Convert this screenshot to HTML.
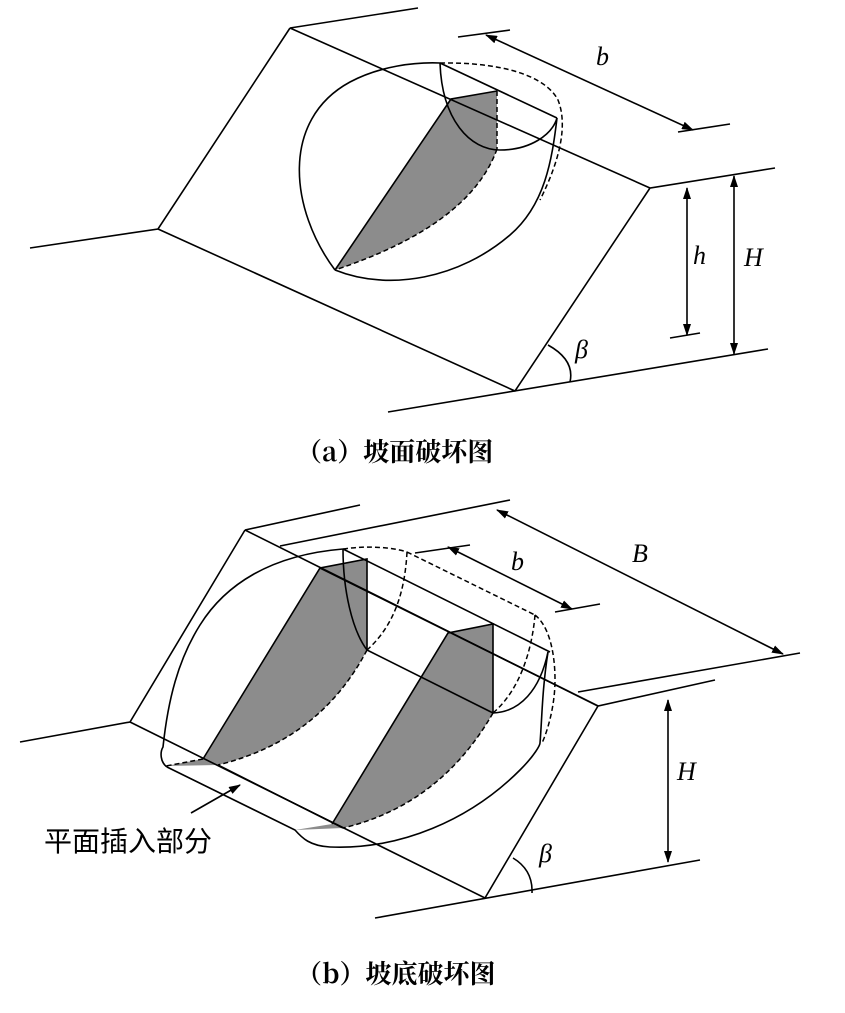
<!DOCTYPE html>
<html><head><meta charset="utf-8"><style>
html,body{margin:0;padding:0;background:#fff}
svg{display:block}
.l{stroke:#000;stroke-width:1.6;fill:none}
.d{stroke:#000;stroke-width:1.5;fill:none;stroke-dasharray:5,3}
.g{fill:#8c8c8c;stroke:none}
.it{font-family:"Liberation Serif",serif;font-style:italic;font-size:26px}
.cap{font-family:"Noto Serif CJK SC","Liberation Serif",serif;font-size:26px;font-weight:bold}
.cn{font-family:"Noto Sans CJK SC","Liberation Sans",sans-serif;font-size:28px}
</style></head><body>
<svg width="845" height="1013" viewBox="0 0 845 1013" xmlns="http://www.w3.org/2000/svg">
<defs><marker id="a" markerWidth="12" markerHeight="8" refX="11" refY="4" orient="auto-start-reverse" markerUnits="userSpaceOnUse"><path d="M0,0 L12,4 L0,8 z" fill="#000"/></marker></defs>

<!-- ===== (a) ===== -->
<path class="g" d="M335,270 L451,99 L497,91 L497,149 Q470,225 335,270 Z"/>
<path class="l" d="M290,28 L418,8 M290,28 L158,229 L30,248 M290,28 L650,188 L775,168 M158,229 L515,391 L650,188 M388,412 L768,349"/>
<path class="l" d="M458,37 L510,30 M678,132 L730,124"/>
<line class="l" x1="486" y1="35" x2="693" y2="130" marker-start="url(#a)" marker-end="url(#a)"/>
<text class="it" x="596" y="65">b</text>
<path class="l" d="M670,338 L700,333"/>
<line class="l" x1="687" y1="188" x2="687" y2="335" marker-start="url(#a)" marker-end="url(#a)"/>
<text class="it" x="693" y="264">h</text>
<line class="l" x1="734" y1="176" x2="734" y2="354" marker-start="url(#a)" marker-end="url(#a)"/>
<text class="it" x="744" y="266">H</text>
<path class="l" d="M548,345 Q575,360 570,382"/>
<text class="it" x="575" y="358">β</text>
<path class="l" d="M335,270 C290,210 280,120 350,82 C380,66 415,62 440,63"/>
<path class="l" d="M335,270 C390,292 460,278 510,235 C545,205 552,160 557,118"/>
<path class="l" d="M440,63 L557,118 M440,63 C442,120 470,150 500,150 C530,150 552,135 557,118"/>
<path class="l" d="M335,270 L451,99 L497,91"/>
<path class="d" d="M497,91 L497,149 M497,149 Q470,225 335,270"/>
<path class="d" d="M440,63 C500,62 545,75 558,100 C568,125 560,160 540,200"/>

<text class="cap" x="296" y="461">（a）坡面破坏图</text>

<!-- ===== (b) ===== -->
<path class="g" d="M203,759 L320,568 L367,559 L367,650 Q320,740 218,765 Z"/>
<path class="g" d="M332,824 L448,633 L493,624 L493,713 Q440,805 343,828 Z"/>
<path class="g" d="M166,766 L203,759 L218,765 Z M295,830 L332,824 L343,828 Z"/>
<path class="l" d="M245,530 L360,505 M280,546 L510,500 M245,530 L130,722 L20,742 M245,530 L598,706 L715,680 M578,692 L800,653 M598,706 L485,898 M375,918 L700,860 M130,722 L485,898"/>
<line class="l" x1="497" y1="510" x2="783" y2="654" marker-start="url(#a)" marker-end="url(#a)"/>
<text class="it" x="632" y="562">B</text>
<path class="l" d="M415,553 L470,545 M555,612 L600,604"/>
<line class="l" x1="448" y1="547" x2="572" y2="609" marker-start="url(#a)" marker-end="url(#a)"/>
<text class="it" x="511" y="570">b</text>
<line class="l" x1="668" y1="700" x2="668" y2="862" marker-start="url(#a)" marker-end="url(#a)"/>
<text class="it" x="677" y="780">H</text>
<path class="l" d="M513,858 Q533,870 532,893"/>
<text class="it" x="539" y="862">β</text>
<!-- outline -->
<path class="l" d="M167,767 C160,762 160,752 163,747 C168,700 178,660 200,625 C225,585 270,555 343,549"/>
<path class="l" d="M167,767 L295,830 C302,838 310,846 330,847 C400,850 470,820 520,770 C535,755 540,745 540,743 C542,720 542,690 548,652"/>
<path class="l" d="M343,549 C343,590 352,630 367,650 M493,713 C520,712 540,690 548,652"/>
<path class="l" d="M343,549 L550,652 M320,568 L598,706 M367,650 L493,713 M203,759 L320,568 L367,559 L367,650 M332,824 L448,633 L493,624 L493,713 M218,765 L343,828"/>
<path class="d" d="M367,650 Q320,740 218,765 M493,713 Q440,805 343,828"/>
<path class="d" d="M343,549 C370,545 395,548 407,552 M407,552 L535,615 M407,552 C405,590 395,625 367,650 M535,615 C532,650 520,690 493,713 M535,615 C548,625 555,650 555,680 C555,705 548,730 542,743"/>
<path class="d" d="M203,759 L166,766"/>
<line class="l" x1="191" y1="813" x2="240" y2="785" marker-end="url(#a)"/>
<text class="cn" x="44" y="851">平面插入部分</text>

<text class="cap" x="296" y="983">（b）坡底破坏图</text>
</svg>
</body></html>
